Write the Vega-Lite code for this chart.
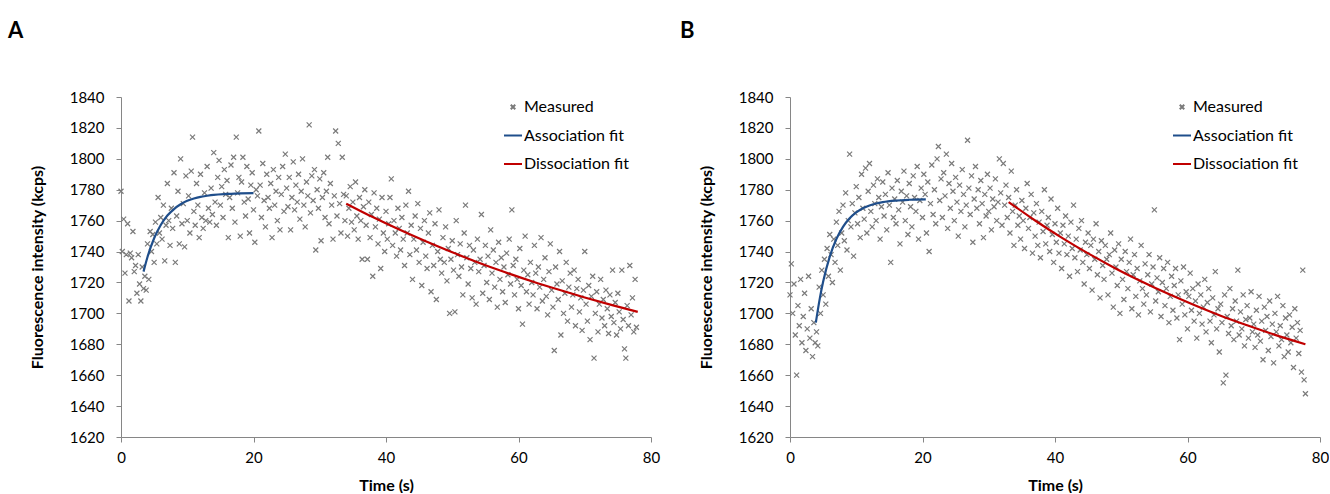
{
"$schema":"https://vega.github.io/schema/vega-lite/v6.json",
"padding":{"left":8,"top":20,"right":0,"bottom":0},
"config":{"font":"Lato","view":{"stroke":null},
"axis":{"domainColor":"#868686","tickColor":"#868686","labelColor":"#000","grid":false,"labelFontSize":15,"titleFontSize":16,"titleFontWeight":"bold","titleColor":"#000","labelFlush":false,"labelOverlap":false,"tickSize":5,"labelFont":"Lato","titleFont":"Lato"},
"axisX":{"labelPadding":8,"titlePadding":12},
"axisY":{"labelPadding":12,"titlePadding":24},
"legend":{"orient":"none","legendX":382,"legendY":0,"title":null,"labelFontSize":16,"labelFont":"Lato","labelColor":"#000","symbolSize":324,"symbolStrokeWidth":2,"rowPadding":10.5,"labelOffset":1}},
"resolve":{"scale":{"color":"independent","shape":"independent"},"legend":{"color":"independent","shape":"independent"}},
"spacing":20,
"datasets":{
"a":[{"t":0.0,"v":1779},{"t":0.2,"v":1740},{"t":0.4,"v":1761},{"t":0.6,"v":1726},{"t":0.8,"v":1738},{"t":1.0,"v":1758},{"t":1.2,"v":1708},{"t":1.4,"v":1739},{"t":1.6,"v":1736},{"t":1.8,"v":1753},{"t":2.0,"v":1727},{"t":2.2,"v":1731},{"t":2.4,"v":1713},{"t":2.6,"v":1738},{"t":2.8,"v":1719},{"t":3.0,"v":1708},{"t":3.2,"v":1730},{"t":3.4,"v":1716},{"t":3.6,"v":1724},{"t":3.8,"v":1715},{"t":4.0,"v":1745},{"t":4.2,"v":1722},{"t":4.4,"v":1753},{"t":4.6,"v":1740},{"t":4.8,"v":1751},{"t":5.0,"v":1733},{"t":5.2,"v":1759},{"t":5.4,"v":1745},{"t":5.6,"v":1775},{"t":5.8,"v":1752},{"t":6.0,"v":1762},{"t":6.2,"v":1748},{"t":6.4,"v":1770},{"t":6.6,"v":1734},{"t":6.8,"v":1757},{"t":7.0,"v":1784},{"t":7.2,"v":1760},{"t":7.4,"v":1744},{"t":7.6,"v":1768},{"t":7.8,"v":1755},{"t":8.0,"v":1791},{"t":8.2,"v":1733},{"t":8.4,"v":1763},{"t":8.6,"v":1779},{"t":8.8,"v":1745},{"t":9.0,"v":1800},{"t":9.2,"v":1758},{"t":9.4,"v":1771},{"t":9.6,"v":1743},{"t":9.8,"v":1789},{"t":10.0,"v":1760},{"t":10.2,"v":1776},{"t":10.4,"v":1752},{"t":10.6,"v":1792},{"t":10.8,"v":1814},{"t":11.0,"v":1766},{"t":11.2,"v":1757},{"t":11.4,"v":1784},{"t":11.6,"v":1770},{"t":11.8,"v":1749},{"t":12.0,"v":1790},{"t":12.2,"v":1762},{"t":12.4,"v":1755},{"t":12.6,"v":1778},{"t":12.8,"v":1760},{"t":13.0,"v":1795},{"t":13.2,"v":1768},{"t":13.4,"v":1759},{"t":13.6,"v":1781},{"t":13.8,"v":1764},{"t":14.0,"v":1804},{"t":14.2,"v":1772},{"t":14.4,"v":1757},{"t":14.6,"v":1788},{"t":14.8,"v":1799},{"t":15.0,"v":1770},{"t":15.2,"v":1782},{"t":15.4,"v":1762},{"t":15.6,"v":1793},{"t":15.8,"v":1777},{"t":16.0,"v":1786},{"t":16.2,"v":1749},{"t":16.4,"v":1775},{"t":16.6,"v":1796},{"t":16.8,"v":1768},{"t":17.0,"v":1801},{"t":17.2,"v":1759},{"t":17.4,"v":1814},{"t":17.6,"v":1778},{"t":17.8,"v":1788},{"t":18.0,"v":1750},{"t":18.2,"v":1785},{"t":18.4,"v":1801},{"t":18.6,"v":1772},{"t":18.8,"v":1763},{"t":19.0,"v":1795},{"t":19.2,"v":1774},{"t":19.4,"v":1752},{"t":19.6,"v":1783},{"t":19.8,"v":1791},{"t":20.0,"v":1767},{"t":20.2,"v":1746},{"t":20.4,"v":1780},{"t":20.6,"v":1776},{"t":20.8,"v":1818},{"t":21.0,"v":1783},{"t":21.2,"v":1762},{"t":21.4,"v":1797},{"t":21.6,"v":1773},{"t":21.8,"v":1756},{"t":22.0,"v":1790},{"t":22.2,"v":1775},{"t":22.4,"v":1768},{"t":22.6,"v":1784},{"t":22.8,"v":1749},{"t":23.0,"v":1793},{"t":23.2,"v":1770},{"t":23.4,"v":1779},{"t":23.6,"v":1760},{"t":23.8,"v":1788},{"t":24.0,"v":1754},{"t":24.2,"v":1777},{"t":24.4,"v":1795},{"t":24.6,"v":1766},{"t":24.8,"v":1803},{"t":25.0,"v":1781},{"t":25.2,"v":1769},{"t":25.4,"v":1788},{"t":25.6,"v":1754},{"t":25.8,"v":1775},{"t":26.0,"v":1798},{"t":26.2,"v":1767},{"t":26.4,"v":1783},{"t":26.6,"v":1772},{"t":26.8,"v":1790},{"t":27.0,"v":1761},{"t":27.2,"v":1779},{"t":27.4,"v":1800},{"t":27.6,"v":1770},{"t":27.8,"v":1756},{"t":28.0,"v":1785},{"t":28.2,"v":1776},{"t":28.4,"v":1822},{"t":28.6,"v":1765},{"t":28.8,"v":1789},{"t":29.0,"v":1773},{"t":29.2,"v":1793},{"t":29.4,"v":1741},{"t":29.6,"v":1780},{"t":29.8,"v":1768},{"t":30.0,"v":1787},{"t":30.2,"v":1747},{"t":30.4,"v":1775},{"t":30.6,"v":1791},{"t":30.8,"v":1762},{"t":31.0,"v":1779},{"t":31.2,"v":1801},{"t":31.4,"v":1758},{"t":31.6,"v":1784},{"t":31.8,"v":1770},{"t":32.0,"v":1748},{"t":32.2,"v":1776},{"t":32.4,"v":1818},{"t":32.6,"v":1763},{"t":32.8,"v":1810},{"t":33.0,"v":1771},{"t":33.2,"v":1752},{"t":33.4,"v":1801},{"t":33.6,"v":1777},{"t":33.8,"v":1760},{"t":34.0,"v":1776},{"t":34.2,"v":1750},{"t":34.4,"v":1768},{"t":34.6,"v":1782},{"t":34.8,"v":1759},{"t":35.0,"v":1772},{"t":35.2,"v":1754},{"t":35.4,"v":1785},{"t":35.6,"v":1763},{"t":35.8,"v":1748},{"t":36.0,"v":1775},{"t":36.2,"v":1760},{"t":36.4,"v":1735},{"t":36.6,"v":1769},{"t":36.8,"v":1780},{"t":37.0,"v":1757},{"t":37.2,"v":1735},{"t":37.4,"v":1772},{"t":37.6,"v":1749},{"t":37.8,"v":1764},{"t":38.0,"v":1724},{"t":38.2,"v":1778},{"t":38.4,"v":1756},{"t":38.6,"v":1768},{"t":38.8,"v":1745},{"t":39.0,"v":1761},{"t":39.2,"v":1729},{"t":39.4,"v":1775},{"t":39.6,"v":1752},{"t":39.8,"v":1740},{"t":40.0,"v":1766},{"t":40.2,"v":1748},{"t":40.4,"v":1758},{"t":40.6,"v":1775},{"t":40.8,"v":1787},{"t":41.0,"v":1744},{"t":41.2,"v":1760},{"t":41.4,"v":1752},{"t":41.6,"v":1737},{"t":41.8,"v":1768},{"t":42.0,"v":1755},{"t":42.2,"v":1741},{"t":42.4,"v":1762},{"t":42.6,"v":1748},{"t":42.8,"v":1731},{"t":43.0,"v":1770},{"t":43.2,"v":1752},{"t":43.4,"v":1779},{"t":43.6,"v":1738},{"t":43.8,"v":1757},{"t":44.0,"v":1722},{"t":44.2,"v":1748},{"t":44.4,"v":1763},{"t":44.6,"v":1741},{"t":44.8,"v":1771},{"t":45.0,"v":1733},{"t":45.2,"v":1755},{"t":45.4,"v":1718},{"t":45.6,"v":1746},{"t":45.8,"v":1760},{"t":46.0,"v":1737},{"t":46.2,"v":1729},{"t":46.4,"v":1752},{"t":46.6,"v":1765},{"t":46.8,"v":1714},{"t":47.0,"v":1744},{"t":47.2,"v":1731},{"t":47.4,"v":1758},{"t":47.6,"v":1709},{"t":47.8,"v":1740},{"t":48.0,"v":1767},{"t":48.2,"v":1735},{"t":48.4,"v":1726},{"t":48.6,"v":1749},{"t":48.8,"v":1733},{"t":49.0,"v":1756},{"t":49.2,"v":1721},{"t":49.4,"v":1742},{"t":49.6,"v":1700},{"t":49.8,"v":1735},{"t":50.0,"v":1747},{"t":50.2,"v":1728},{"t":50.4,"v":1701},{"t":50.6,"v":1760},{"t":50.8,"v":1738},{"t":51.0,"v":1724},{"t":51.2,"v":1745},{"t":51.4,"v":1730},{"t":51.6,"v":1712},{"t":51.8,"v":1752},{"t":52.0,"v":1770},{"t":52.2,"v":1736},{"t":52.4,"v":1719},{"t":52.6,"v":1744},{"t":52.8,"v":1729},{"t":53.0,"v":1710},{"t":53.2,"v":1741},{"t":53.4,"v":1733},{"t":53.6,"v":1706},{"t":53.8,"v":1748},{"t":54.0,"v":1727},{"t":54.2,"v":1735},{"t":54.4,"v":1764},{"t":54.6,"v":1713},{"t":54.8,"v":1731},{"t":55.0,"v":1744},{"t":55.2,"v":1720},{"t":55.4,"v":1737},{"t":55.6,"v":1709},{"t":55.8,"v":1754},{"t":56.0,"v":1726},{"t":56.2,"v":1741},{"t":56.4,"v":1717},{"t":56.6,"v":1733},{"t":56.8,"v":1704},{"t":57.0,"v":1746},{"t":57.2,"v":1722},{"t":57.4,"v":1736},{"t":57.6,"v":1714},{"t":57.8,"v":1730},{"t":58.0,"v":1707},{"t":58.2,"v":1739},{"t":58.4,"v":1725},{"t":58.6,"v":1748},{"t":58.8,"v":1719},{"t":59.0,"v":1767},{"t":59.2,"v":1731},{"t":59.4,"v":1712},{"t":59.6,"v":1735},{"t":59.8,"v":1722},{"t":60.0,"v":1703},{"t":60.2,"v":1742},{"t":60.4,"v":1718},{"t":60.6,"v":1693},{"t":60.8,"v":1728},{"t":61.0,"v":1750},{"t":61.2,"v":1714},{"t":61.4,"v":1725},{"t":61.6,"v":1706},{"t":61.8,"v":1733},{"t":62.0,"v":1720},{"t":62.2,"v":1712},{"t":62.4,"v":1744},{"t":62.6,"v":1726},{"t":62.8,"v":1703},{"t":63.0,"v":1730},{"t":63.2,"v":1717},{"t":63.4,"v":1749},{"t":63.6,"v":1708},{"t":63.8,"v":1722},{"t":64.0,"v":1736},{"t":64.2,"v":1711},{"t":64.4,"v":1699},{"t":64.6,"v":1727},{"t":64.8,"v":1745},{"t":65.0,"v":1715},{"t":65.2,"v":1704},{"t":65.4,"v":1676},{"t":65.6,"v":1730},{"t":65.8,"v":1719},{"t":66.0,"v":1709},{"t":66.2,"v":1740},{"t":66.4,"v":1686},{"t":66.6,"v":1721},{"t":66.8,"v":1700},{"t":67.0,"v":1713},{"t":67.2,"v":1733},{"t":67.4,"v":1695},{"t":67.6,"v":1717},{"t":67.8,"v":1726},{"t":68.0,"v":1704},{"t":68.2,"v":1712},{"t":68.4,"v":1728},{"t":68.6,"v":1692},{"t":68.8,"v":1716},{"t":69.0,"v":1722},{"t":69.2,"v":1701},{"t":69.4,"v":1710},{"t":69.6,"v":1689},{"t":69.8,"v":1715},{"t":70.0,"v":1740},{"t":70.2,"v":1706},{"t":70.4,"v":1695},{"t":70.6,"v":1718},{"t":70.8,"v":1683},{"t":71.0,"v":1711},{"t":71.2,"v":1724},{"t":71.4,"v":1671},{"t":71.6,"v":1700},{"t":71.8,"v":1714},{"t":72.0,"v":1688},{"t":72.2,"v":1706},{"t":72.4,"v":1722},{"t":72.6,"v":1697},{"t":72.8,"v":1709},{"t":73.0,"v":1692},{"t":73.2,"v":1715},{"t":73.4,"v":1703},{"t":73.6,"v":1687},{"t":73.8,"v":1712},{"t":74.0,"v":1698},{"t":74.2,"v":1728},{"t":74.4,"v":1694},{"t":74.6,"v":1707},{"t":74.8,"v":1686},{"t":75.0,"v":1713},{"t":75.2,"v":1701},{"t":75.4,"v":1690},{"t":75.6,"v":1728},{"t":75.8,"v":1696},{"t":76.0,"v":1677},{"t":76.2,"v":1671},{"t":76.4,"v":1705},{"t":76.6,"v":1692},{"t":76.8,"v":1731},{"t":77.0,"v":1699},{"t":77.2,"v":1710},{"t":77.4,"v":1688},{"t":77.6,"v":1722},{"t":77.8,"v":1691}],
"b":[{"t":0.0,"v":1712},{"t":0.2,"v":1732},{"t":0.4,"v":1700},{"t":0.6,"v":1719},{"t":0.8,"v":1686},{"t":1.0,"v":1660},{"t":1.2,"v":1705},{"t":1.4,"v":1692},{"t":1.6,"v":1722},{"t":1.8,"v":1681},{"t":2.0,"v":1698},{"t":2.2,"v":1713},{"t":2.4,"v":1676},{"t":2.6,"v":1690},{"t":2.8,"v":1724},{"t":3.0,"v":1684},{"t":3.2,"v":1703},{"t":3.4,"v":1672},{"t":3.6,"v":1694},{"t":3.8,"v":1681},{"t":4.0,"v":1688},{"t":4.2,"v":1679},{"t":4.4,"v":1717},{"t":4.6,"v":1700},{"t":4.8,"v":1728},{"t":5.0,"v":1712},{"t":5.2,"v":1735},{"t":5.4,"v":1706},{"t":5.6,"v":1742},{"t":5.8,"v":1724},{"t":6.0,"v":1751},{"t":6.2,"v":1738},{"t":6.4,"v":1720},{"t":6.6,"v":1748},{"t":6.8,"v":1733},{"t":7.0,"v":1759},{"t":7.2,"v":1744},{"t":7.4,"v":1766},{"t":7.6,"v":1728},{"t":7.8,"v":1752},{"t":8.0,"v":1770},{"t":8.2,"v":1747},{"t":8.4,"v":1778},{"t":8.6,"v":1741},{"t":8.8,"v":1760},{"t":9.0,"v":1803},{"t":9.2,"v":1756},{"t":9.4,"v":1771},{"t":9.6,"v":1737},{"t":9.8,"v":1765},{"t":10.0,"v":1782},{"t":10.2,"v":1758},{"t":10.4,"v":1775},{"t":10.6,"v":1749},{"t":10.8,"v":1790},{"t":11.0,"v":1768},{"t":11.2,"v":1761},{"t":11.4,"v":1794},{"t":11.6,"v":1752},{"t":11.8,"v":1779},{"t":12.0,"v":1797},{"t":12.2,"v":1766},{"t":12.4,"v":1756},{"t":12.6,"v":1783},{"t":12.8,"v":1771},{"t":13.0,"v":1760},{"t":13.2,"v":1787},{"t":13.4,"v":1775},{"t":13.6,"v":1748},{"t":13.8,"v":1769},{"t":14.0,"v":1785},{"t":14.2,"v":1763},{"t":14.4,"v":1777},{"t":14.6,"v":1754},{"t":14.8,"v":1791},{"t":15.0,"v":1770},{"t":15.2,"v":1733},{"t":15.4,"v":1781},{"t":15.6,"v":1762},{"t":15.8,"v":1774},{"t":16.0,"v":1758},{"t":16.2,"v":1786},{"t":16.4,"v":1767},{"t":16.6,"v":1745},{"t":16.8,"v":1779},{"t":17.0,"v":1772},{"t":17.2,"v":1792},{"t":17.4,"v":1760},{"t":17.6,"v":1776},{"t":17.8,"v":1751},{"t":18.0,"v":1784},{"t":18.2,"v":1769},{"t":18.4,"v":1756},{"t":18.6,"v":1789},{"t":18.8,"v":1775},{"t":19.0,"v":1766},{"t":19.2,"v":1795},{"t":19.4,"v":1748},{"t":19.6,"v":1773},{"t":19.8,"v":1781},{"t":20.0,"v":1762},{"t":20.2,"v":1790},{"t":20.4,"v":1777},{"t":20.6,"v":1752},{"t":20.8,"v":1785},{"t":21.0,"v":1740},{"t":21.2,"v":1771},{"t":21.4,"v":1796},{"t":21.6,"v":1764},{"t":21.8,"v":1780},{"t":22.0,"v":1758},{"t":22.2,"v":1800},{"t":22.4,"v":1808},{"t":22.6,"v":1773},{"t":22.8,"v":1787},{"t":23.0,"v":1762},{"t":23.2,"v":1791},{"t":23.4,"v":1776},{"t":23.6,"v":1803},{"t":23.8,"v":1755},{"t":24.0,"v":1784},{"t":24.2,"v":1768},{"t":24.4,"v":1797},{"t":24.6,"v":1779},{"t":24.8,"v":1760},{"t":25.0,"v":1788},{"t":25.2,"v":1772},{"t":25.4,"v":1750},{"t":25.6,"v":1783},{"t":25.8,"v":1766},{"t":26.0,"v":1793},{"t":26.2,"v":1777},{"t":26.4,"v":1756},{"t":26.6,"v":1770},{"t":26.8,"v":1812},{"t":27.0,"v":1781},{"t":27.2,"v":1764},{"t":27.4,"v":1789},{"t":27.6,"v":1746},{"t":27.8,"v":1774},{"t":28.0,"v":1795},{"t":28.2,"v":1768},{"t":28.4,"v":1780},{"t":28.6,"v":1758},{"t":28.8,"v":1786},{"t":29.0,"v":1771},{"t":29.2,"v":1749},{"t":29.4,"v":1777},{"t":29.6,"v":1763},{"t":29.8,"v":1790},{"t":30.0,"v":1766},{"t":30.2,"v":1781},{"t":30.4,"v":1754},{"t":30.6,"v":1774},{"t":30.8,"v":1769},{"t":31.0,"v":1787},{"t":31.2,"v":1760},{"t":31.4,"v":1772},{"t":31.6,"v":1800},{"t":31.8,"v":1778},{"t":32.0,"v":1757},{"t":32.2,"v":1797},{"t":32.4,"v":1770},{"t":32.6,"v":1783},{"t":32.8,"v":1762},{"t":33.0,"v":1775},{"t":33.2,"v":1752},{"t":33.4,"v":1792},{"t":33.6,"v":1766},{"t":33.8,"v":1744},{"t":34.0,"v":1770},{"t":34.2,"v":1780},{"t":34.4,"v":1757},{"t":34.6,"v":1763},{"t":34.8,"v":1748},{"t":35.0,"v":1773},{"t":35.2,"v":1760},{"t":35.4,"v":1742},{"t":35.6,"v":1768},{"t":35.8,"v":1784},{"t":36.0,"v":1755},{"t":36.2,"v":1762},{"t":36.4,"v":1777},{"t":36.6,"v":1739},{"t":36.8,"v":1765},{"t":37.0,"v":1750},{"t":37.2,"v":1771},{"t":37.4,"v":1744},{"t":37.6,"v":1759},{"t":37.8,"v":1736},{"t":38.0,"v":1766},{"t":38.2,"v":1753},{"t":38.4,"v":1780},{"t":38.6,"v":1745},{"t":38.8,"v":1757},{"t":39.0,"v":1762},{"t":39.2,"v":1740},{"t":39.4,"v":1774},{"t":39.6,"v":1751},{"t":39.8,"v":1733},{"t":40.0,"v":1758},{"t":40.2,"v":1746},{"t":40.4,"v":1768},{"t":40.6,"v":1739},{"t":40.8,"v":1752},{"t":41.0,"v":1729},{"t":41.2,"v":1757},{"t":41.4,"v":1745},{"t":41.6,"v":1763},{"t":41.8,"v":1738},{"t":42.0,"v":1750},{"t":42.2,"v":1724},{"t":42.4,"v":1759},{"t":42.6,"v":1742},{"t":42.8,"v":1770},{"t":43.0,"v":1736},{"t":43.2,"v":1748},{"t":43.4,"v":1727},{"t":43.6,"v":1755},{"t":43.8,"v":1741},{"t":44.0,"v":1760},{"t":44.2,"v":1733},{"t":44.4,"v":1719},{"t":44.6,"v":1746},{"t":44.8,"v":1738},{"t":45.0,"v":1752},{"t":45.2,"v":1729},{"t":45.4,"v":1744},{"t":45.6,"v":1715},{"t":45.8,"v":1748},{"t":46.0,"v":1735},{"t":46.2,"v":1758},{"t":46.4,"v":1725},{"t":46.6,"v":1740},{"t":46.8,"v":1710},{"t":47.0,"v":1747},{"t":47.2,"v":1731},{"t":47.4,"v":1722},{"t":47.6,"v":1744},{"t":47.8,"v":1735},{"t":48.0,"v":1712},{"t":48.2,"v":1738},{"t":48.4,"v":1752},{"t":48.6,"v":1726},{"t":48.8,"v":1704},{"t":49.0,"v":1741},{"t":49.2,"v":1730},{"t":49.4,"v":1718},{"t":49.6,"v":1745},{"t":49.8,"v":1700},{"t":50.0,"v":1735},{"t":50.2,"v":1722},{"t":50.4,"v":1709},{"t":50.6,"v":1740},{"t":50.8,"v":1727},{"t":51.0,"v":1716},{"t":51.2,"v":1733},{"t":51.4,"v":1748},{"t":51.6,"v":1703},{"t":51.8,"v":1725},{"t":52.0,"v":1738},{"t":52.2,"v":1711},{"t":52.4,"v":1729},{"t":52.6,"v":1699},{"t":52.8,"v":1721},{"t":53.0,"v":1744},{"t":53.2,"v":1716},{"t":53.4,"v":1706},{"t":53.6,"v":1732},{"t":53.8,"v":1712},{"t":54.0,"v":1725},{"t":54.2,"v":1738},{"t":54.4,"v":1701},{"t":54.6,"v":1719},{"t":54.8,"v":1730},{"t":55.0,"v":1767},{"t":55.2,"v":1708},{"t":55.4,"v":1723},{"t":55.6,"v":1714},{"t":55.8,"v":1736},{"t":56.0,"v":1698},{"t":56.2,"v":1720},{"t":56.4,"v":1729},{"t":56.6,"v":1705},{"t":56.8,"v":1716},{"t":57.0,"v":1733},{"t":57.2,"v":1694},{"t":57.4,"v":1711},{"t":57.6,"v":1724},{"t":57.8,"v":1702},{"t":58.0,"v":1718},{"t":58.2,"v":1729},{"t":58.4,"v":1697},{"t":58.6,"v":1712},{"t":58.8,"v":1683},{"t":59.0,"v":1721},{"t":59.2,"v":1706},{"t":59.4,"v":1730},{"t":59.6,"v":1699},{"t":59.8,"v":1714},{"t":60.0,"v":1690},{"t":60.2,"v":1711},{"t":60.4,"v":1726},{"t":60.6,"v":1702},{"t":60.8,"v":1716},{"t":61.0,"v":1695},{"t":61.2,"v":1708},{"t":61.4,"v":1684},{"t":61.6,"v":1719},{"t":61.8,"v":1700},{"t":62.0,"v":1712},{"t":62.2,"v":1693},{"t":62.4,"v":1704},{"t":62.6,"v":1722},{"t":62.8,"v":1688},{"t":63.0,"v":1707},{"t":63.2,"v":1716},{"t":63.4,"v":1695},{"t":63.6,"v":1681},{"t":63.8,"v":1710},{"t":64.0,"v":1699},{"t":64.2,"v":1727},{"t":64.4,"v":1690},{"t":64.6,"v":1703},{"t":64.8,"v":1675},{"t":65.0,"v":1706},{"t":65.2,"v":1694},{"t":65.4,"v":1655},{"t":65.6,"v":1712},{"t":65.8,"v":1660},{"t":66.0,"v":1698},{"t":66.2,"v":1687},{"t":66.4,"v":1716},{"t":66.6,"v":1692},{"t":66.8,"v":1703},{"t":67.0,"v":1683},{"t":67.2,"v":1708},{"t":67.4,"v":1695},{"t":67.6,"v":1728},{"t":67.8,"v":1686},{"t":68.0,"v":1701},{"t":68.2,"v":1690},{"t":68.4,"v":1712},{"t":68.6,"v":1679},{"t":68.8,"v":1696},{"t":69.0,"v":1705},{"t":69.2,"v":1684},{"t":69.4,"v":1697},{"t":69.6,"v":1714},{"t":69.8,"v":1688},{"t":70.0,"v":1693},{"t":70.2,"v":1678},{"t":70.4,"v":1702},{"t":70.6,"v":1686},{"t":70.8,"v":1711},{"t":71.0,"v":1682},{"t":71.2,"v":1695},{"t":71.4,"v":1670},{"t":71.6,"v":1704},{"t":71.8,"v":1689},{"t":72.0,"v":1698},{"t":72.2,"v":1676},{"t":72.4,"v":1708},{"t":72.6,"v":1685},{"t":72.8,"v":1693},{"t":73.0,"v":1668},{"t":73.2,"v":1700},{"t":73.4,"v":1688},{"t":73.6,"v":1711},{"t":73.8,"v":1679},{"t":74.0,"v":1692},{"t":74.2,"v":1683},{"t":74.4,"v":1705},{"t":74.6,"v":1672},{"t":74.8,"v":1697},{"t":75.0,"v":1686},{"t":75.2,"v":1675},{"t":75.4,"v":1699},{"t":75.6,"v":1681},{"t":75.8,"v":1691},{"t":76.0,"v":1665},{"t":76.2,"v":1703},{"t":76.4,"v":1684},{"t":76.6,"v":1694},{"t":76.8,"v":1674},{"t":77.0,"v":1689},{"t":77.2,"v":1662},{"t":77.4,"v":1728},{"t":77.6,"v":1657},{"t":77.8,"v":1648}],
"afit":[{"t":3.4,"v":1727,"s":"Association fit"},{"t":4,"v":1736.5,"s":"Association fit"},{"t":5,"v":1748.6,"s":"Association fit"},{"t":6,"v":1757.2,"s":"Association fit"},{"t":7,"v":1763.3,"s":"Association fit"},{"t":8,"v":1767.5,"s":"Association fit"},{"t":9,"v":1770.6,"s":"Association fit"},{"t":10,"v":1772.8,"s":"Association fit"},{"t":11,"v":1774.3,"s":"Association fit"},{"t":12,"v":1775.4,"s":"Association fit"},{"t":13,"v":1776.1,"s":"Association fit"},{"t":14,"v":1776.7,"s":"Association fit"},{"t":16,"v":1777.3,"s":"Association fit"},{"t":18,"v":1777.7,"s":"Association fit"},{"t":20,"v":1777.8,"s":"Association fit"},{"t":34,"v":1771.0,"s":"Dissociation fit"},{"t":38,"v":1762.3,"s":"Dissociation fit"},{"t":42,"v":1754.2,"s":"Dissociation fit"},{"t":46,"v":1746.6,"s":"Dissociation fit"},{"t":50,"v":1739.5,"s":"Dissociation fit"},{"t":54,"v":1732.8,"s":"Dissociation fit"},{"t":58,"v":1726.6,"s":"Dissociation fit"},{"t":62,"v":1720.8,"s":"Dissociation fit"},{"t":66,"v":1715.4,"s":"Dissociation fit"},{"t":70,"v":1710.3,"s":"Dissociation fit"},{"t":74,"v":1705.5,"s":"Dissociation fit"},{"t":78,"v":1701.0,"s":"Dissociation fit"}],
"bfit":[{"t":3.9,"v":1694,"s":"Association fit"},{"t":4.5,"v":1709.7,"s":"Association fit"},{"t":5,"v":1720.4,"s":"Association fit"},{"t":6,"v":1736.7,"s":"Association fit"},{"t":7,"v":1748.1,"s":"Association fit"},{"t":8,"v":1756.0,"s":"Association fit"},{"t":9,"v":1761.5,"s":"Association fit"},{"t":10,"v":1765.3,"s":"Association fit"},{"t":11,"v":1768.0,"s":"Association fit"},{"t":12,"v":1769.8,"s":"Association fit"},{"t":13,"v":1771.1,"s":"Association fit"},{"t":14,"v":1772.0,"s":"Association fit"},{"t":16,"v":1773.0,"s":"Association fit"},{"t":18,"v":1773.5,"s":"Association fit"},{"t":20.5,"v":1773.8,"s":"Association fit"},{"t":33,"v":1772.0,"s":"Dissociation fit"},{"t":37,"v":1760.1,"s":"Dissociation fit"},{"t":41,"v":1749.0,"s":"Dissociation fit"},{"t":45,"v":1738.8,"s":"Dissociation fit"},{"t":49,"v":1729.4,"s":"Dissociation fit"},{"t":53,"v":1720.8,"s":"Dissociation fit"},{"t":57,"v":1712.8,"s":"Dissociation fit"},{"t":61,"v":1705.4,"s":"Dissociation fit"},{"t":65,"v":1698.5,"s":"Dissociation fit"},{"t":69,"v":1692.3,"s":"Dissociation fit"},{"t":73,"v":1686.4,"s":"Dissociation fit"},{"t":77.8,"v":1680.0,"s":"Dissociation fit"}]
},
"hconcat":[
{"width":530,"height":340,
"title":{"text":"A","anchor":"start","frame":"group","dx":-113,"offset":47,"fontSize":22,"fontWeight":"bold","font":"Lato","color":"#000"},
"encoding":{"x":{"field":"t","type":"quantitative","scale":{"domain":[0,80]},"axis":{"title":"Time (s)","values":[0,20,40,60,80]}},
"y":{"field":"v","type":"quantitative","scale":{"domain":[1620,1840],"zero":false},"axis":{"title":"Fluorescence intensity (kcps)","format":"d","values":[1620,1640,1660,1680,1700,1720,1740,1760,1780,1800,1820,1840]}}},
"layer":[
{"data":{"name":"a"},"mark":{"type":"point","filled":false,"size":400,"strokeWidth":1.2,"opacity":1},
"encoding":{
"color":{"datum":"Measured","type":"nominal","scale":{"domain":["Measured","Association fit","Dissociation fit"],"range":["#7A7A7A","#1F4E8B","#C00000"]},"legend":{"encode":{"symbols":{"update":{"strokeWidth":{"signal":"datum.value === 'Measured' ? 1 : 2.2"}}}}}},
"shape":{"datum":"Measured","type":"nominal","scale":{"domain":["Measured","Association fit","Dissociation fit"],"range":["M-0.25,-0.25L0.25,0.25M-0.25,0.25L0.25,-0.25","stroke","stroke"]},"legend":{"encode":{"symbols":{"update":{"strokeWidth":{"signal":"datum.value === 'Measured' ? 1 : 2.2"}}}}}}}},
{"data":{"name":"afit"},"mark":{"type":"line","strokeWidth":2.2,"interpolate":"monotone"},
"encoding":{"color":{"field":"s","type":"nominal"}}}
]},
{"width":530,"height":340,
"title":{"text":"B","anchor":"start","frame":"group","dx":-110,"offset":47,"fontSize":22,"fontWeight":"bold","font":"Lato","color":"#000"},
"encoding":{"x":{"field":"t","type":"quantitative","scale":{"domain":[0,80]},"axis":{"title":"Time (s)","values":[0,20,40,60,80]}},
"y":{"field":"v","type":"quantitative","scale":{"domain":[1620,1840],"zero":false},"axis":{"title":"Fluorescence intensity (kcps)","format":"d","values":[1620,1640,1660,1680,1700,1720,1740,1760,1780,1800,1820,1840]}}},
"layer":[
{"data":{"name":"b"},"mark":{"type":"point","filled":false,"size":400,"strokeWidth":1.2,"opacity":1},
"encoding":{
"color":{"datum":"Measured","type":"nominal","scale":{"domain":["Measured","Association fit","Dissociation fit"],"range":["#7A7A7A","#1F4E8B","#C00000"]},"legend":{"encode":{"symbols":{"update":{"strokeWidth":{"signal":"datum.value === 'Measured' ? 1 : 2.2"}}}}}},
"shape":{"datum":"Measured","type":"nominal","scale":{"domain":["Measured","Association fit","Dissociation fit"],"range":["M-0.25,-0.25L0.25,0.25M-0.25,0.25L0.25,-0.25","stroke","stroke"]},"legend":{"encode":{"symbols":{"update":{"strokeWidth":{"signal":"datum.value === 'Measured' ? 1 : 2.2"}}}}}}}},
{"data":{"name":"bfit"},"mark":{"type":"line","strokeWidth":2.2,"interpolate":"monotone"},
"encoding":{"color":{"field":"s","type":"nominal"}}}
]}
]
}
